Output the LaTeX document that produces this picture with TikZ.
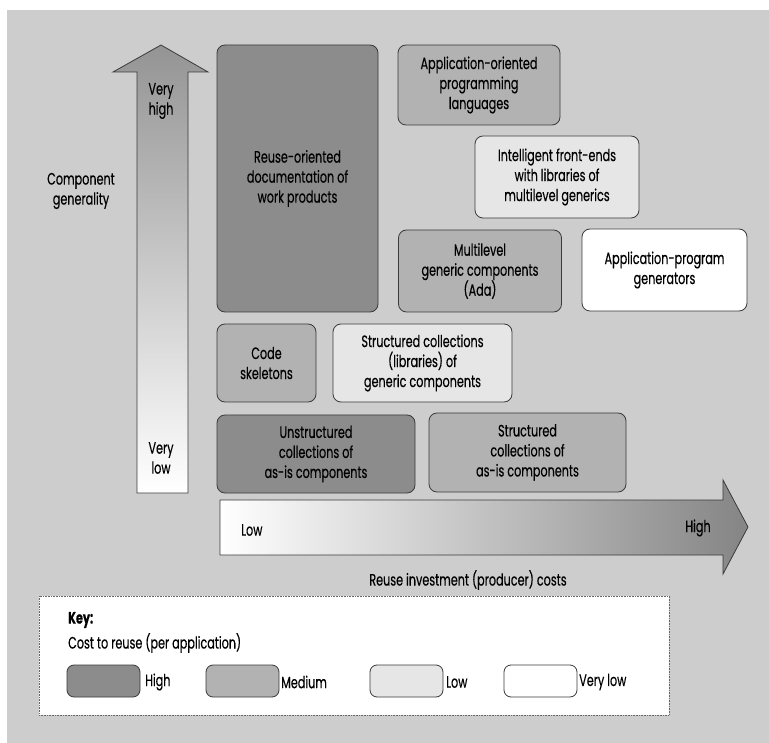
\documentclass[tikz,border=0pt]{standalone}
\usepackage{fontspec}
\setmainfont[FakeStretch=0.68,FakeBold=0.35]{Poppins}
\definecolor{bgc}{HTML}{CDCDCD}
\definecolor{high}{HTML}{8C8C8C}
\definecolor{medium}{HTML}{B2B2B2}
\definecolor{low}{HTML}{E6E6E6}
\definecolor{verylow}{HTML}{FFFFFF}
\definecolor{edge}{HTML}{3A3A3A}
\tikzset{
  box/.style={draw=edge, line width=0.8pt, rounded corners=8pt, align=center,
    inner sep=2pt, font=\fontsize{16.5}{20}\selectfont},
  lbl/.style={align=center, inner sep=1pt, font=\fontsize{16.5}{20}\selectfont},
  swatch/.style={draw=edge, line width=0.8pt, rounded corners=7pt,
    minimum width=73pt, minimum height=32pt, inner sep=0pt},
  arrowbody/.style={draw=edge, line width=0.8pt}
}
\begin{document}
\begin{tikzpicture}[x=1pt,y=-1pt]
\useasboundingbox (0,0) rectangle (769,743);
\fill[white] (0,0) rectangle (769,743);
\fill[bgc] (7,10) rectangle (769,743);

% vertical arrow (component generality)
\path[arrowbody, top color=black!42, bottom color=white]
  (137,493) -- (137,72) -- (113,72) -- (161,45) -- (208,72) -- (188,72) -- (188,493) -- cycle;
\node[lbl] (vhigh) at (161,101) {Very\\high};
\node[lbl] (vlow) at (161,458) {Very\\low};
\node[lbl] (cgen) at (81,191) {Component\\generality};

% horizontal arrow (reuse investment)
\path[arrowbody, left color=white, right color=black!48]
  (220,500) -- (723,500) -- (723,480) -- (748,527) -- (723,574) -- (723,555) -- (220,555) -- cycle;
\node[lbl, anchor=west] (xlow) at (240,530) {Low};
\node[lbl] (xhigh) at (698,528) {High};
\node[lbl] (xlab) at (468,580) {Reuse investment (producer) costs};

% boxes
\node[box, fill=high, minimum width=161pt, minimum height=267pt] (doc) at (297.5,178.5)
  {Reuse-oriented\\documentation of\\work products};
\node[box, fill=medium, minimum width=162pt, minimum height=80pt] (applang) at (479,85)
  {Application-oriented\\programming\\languages};
\node[box, fill=low, minimum width=164pt, minimum height=82pt] (front) at (557,177)
  {Intelligent front-ends\\with libraries of\\multilevel generics};
\node[box, fill=medium, minimum width=163pt, minimum height=82pt] (multi) at (480,271)
  {Multilevel\\generic components\\(Ada)};
\node[box, fill=verylow, minimum width=165pt, minimum height=82pt] (gen) at (664.5,270)
  {Application-program\\generators};
\node[box, fill=medium, minimum width=99pt, minimum height=78pt] (code) at (266.5,363)
  {Code\\skeletons};
\node[box, fill=low, minimum width=179pt, minimum height=78pt] (libs) at (422.5,363)
  {Structured collections\\(libraries) of\\generic components};
\node[box, fill=high, minimum width=198pt, minimum height=78pt] (unstr) at (316,454)
  {Unstructured\\collections of\\as-is components};
\node[box, fill=medium, minimum width=197pt, minimum height=79pt] (strasis) at (527.5,452.5)
  {Structured\\collections of\\as-is components};

% key
\node[draw=black!60, line width=0.6pt, densely dotted, fill=white, minimum width=630pt,
  minimum height=119pt, inner sep=0pt] (key) at (354,655.5) {};
\node[lbl, anchor=west, font=\fontsize{16.5}{20}\selectfont\bfseries] (keyt) at (67,620) {Key:};
\node[lbl, anchor=west] (keys) at (67,643) {Cost to reuse (per application)};
\node[swatch, fill=high] (swh) at (103.5,681) {};
\node[lbl, anchor=west] (swhl) at (144,682) {High};
\node[swatch, fill=medium] (swm) at (242.5,681) {};
\node[lbl, anchor=west] (swml) at (280,682) {Medium};
\node[swatch, fill=low] (swl) at (406.5,681) {};
\node[lbl, anchor=west] (swll) at (445,682) {Low};
\node[swatch, fill=verylow] (swv) at (540.5,681) {};
\node[lbl, anchor=west] (swvl) at (578,682) {Very low};
\end{tikzpicture}
\end{document}
